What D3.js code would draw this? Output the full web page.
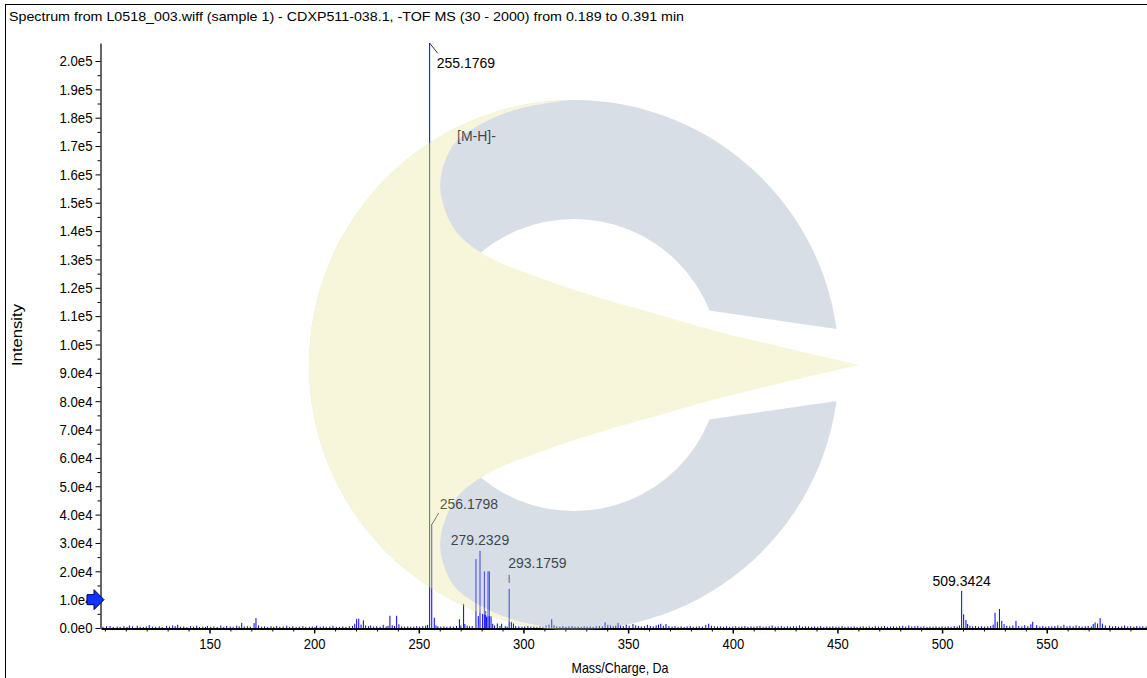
<!DOCTYPE html>
<html><head><meta charset="utf-8">
<script src="https://cdn.jsdelivr.net/npm/d3@7"></script>
<style>
html,body{margin:0;padding:0;background:#fff;overflow:hidden;}
svg{display:block;}
text{font-family:Arial,"Liberation Sans",sans-serif;fill:#000;}
</style>
</head><body>
<svg id="chart" width="1147" height="678"></svg>
<script>
// ---------------- data ----------------
const titleText = "Spectrum from L0518_003.wiff (sample 1) - CDXP511-038.1, -TOF MS (30 - 2000) from 0.189 to 0.391 min";
const xAxisTitle = "Mass/Charge, Da";
const yAxisTitle = "Intensity";
const xTickValues = [150, 200, 250, 300, 350, 400, 450, 500, 550];
const xMinorTicks = [100,110,120,130,140,160,170,180,190,210,220,230,240,260,270,280,290,310,320,330,340,360,370,380,390,410,420,430,440,460,470,480,490,510,520,530,540,560,570,580,590];
const yTickValues = [0,10000,20000,30000,40000,50000,60000,70000,80000,90000,100000,110000,120000,130000,140000,150000,160000,170000,180000,190000,200000];
const yTickLabels = ["0.0e0","1.0e4","2.0e4","3.0e4","4.0e4","5.0e4","6.0e4","7.0e4","8.0e4","9.0e4","1.0e5","1.1e5","1.2e5","1.3e5","1.4e5","1.5e5","1.6e5","1.7e5","1.8e5","1.9e5","2.0e5"];
const yMinorTicks = [5000,15000,25000,35000,45000,55000,65000,75000,85000,95000,105000,115000,125000,135000,145000,155000,165000,175000,185000,195000];

// labelled peaks
const labeledMz = [255.1769, 256.1798, 279.2329, 293.1759, 509.3424];
const labeledIntensity = [206300, 36700, 27200, 13800, 13100];
const labeledText = ["255.1769", "256.1798", "279.2329", "293.1759", "509.3424"];
const adductText = "[M-H]-";

// other peaks (m/z, intensity)
const peakMz = [
 99.1,100.8,102.5,104.0,105.9,107.3,109.1,110.6,111.7,113.2,115.5,116.9,118.4,119.8,121.2,122.7,124.3,126.0,127.4,129.5,130.9,132.4,133.6,134.8,136.1,137.7,139.2,140.9,142.3,143.9,145.2,146.8,148.1,149.0,
 150.6,152.1,153.7,155.4,156.8,158.2,159.9,161.3,163.0,164.2,165.4,166.6,168.1,169.5,171.3,172.2,173.4,174.9,176.3,177.8,179.4,180.7,182.1,183.6,185.2,186.9,188.3,189.8,191.4,192.9,194.6,196.0,197.7,199.1,200.4,201.2,202.9,204.4,205.8,207.5,209.0,210.6,212.1,213.7,215.2,216.8,218.3,219.4,
 220.3,221.3,222.4,223.5,224.6,226.0,227.0,228.4,229.9,231.5,233.0,234.4,235.3,236.2,237.3,238.4,239.4,240.5,241.8,243.2,244.7,246.1,247.6,249.0,250.4,251.9,253.3,254.2,
 257.4,258.2,259.1,260.5,262.0,263.4,265.0,266.5,268.0,269.4,270.1,271.4,272.0,273.1,274.2,275.5,277.3,278.4,280.5,281.3,281.95,282.4,283.06,283.7,284.5,285.3,286.2,287.5,288.8,289.6,291.3,292.2,294.2,295.2,296.3,297.8,299.3,
 300.6,302.1,303.5,305.0,306.4,307.9,309.3,310.8,312.2,313.5,314.6,315.9,317.4,318.8,320.3,321.7,323.2,324.6,326.1,327.6,329.0,330.4,331.9,333.3,334.8,336.3,337.7,339.0,340.3,341.6,342.9,344.1,345.2,346.4,347.7,349.1,350.5,352.3,353.6,354.9,356.3,357.8,359.2,360.6,362.0,363.4,364.5,365.6,366.8,368.1,369.5,371.0,372.4,373.9,375.3,376.8,378.2,379.7,381.1,382.6,384.0,385.5,387.1,388.5,389.8,391.2,392.7,394.1,395.6,397.0,398.5,
 400.0,401.4,402.9,404.3,405.8,407.2,408.7,410.1,411.6,413.0,414.5,415.9,417.4,418.8,420.3,421.7,423.2,424.6,426.1,427.5,429.0,430.4,431.9,433.3,434.8,436.2,437.7,439.1,440.6,442.0,443.5,444.9,446.4,447.8,449.3,450.7,452.2,453.6,455.1,456.5,458.0,459.4,460.9,462.3,463.8,465.2,466.7,468.1,469.6,471.0,472.5,473.9,475.4,476.8,478.3,479.7,481.2,482.6,484.1,485.5,487.0,488.4,489.9,491.3,492.8,494.2,495.7,497.1,498.6,
 500.0,501.5,502.9,504.3,505.8,507.2,508.3,510.3,511.4,512.2,513.3,514.6,516.0,517.4,518.9,520.3,521.8,523.2,524.4,525.3,526.4,527.4,528.5,529.6,530.9,532.3,533.8,535.3,536.6,538.1,539.5,541.0,542.4,543.3,545.2,546.7,548.1,549.5,551.0,552.4,553.9,555.3,556.8,558.2,559.7,561.1,562.6,564.0,565.5,566.9,568.4,569.8,571.3,572.2,573.1,574.3,575.5,576.6,578.0,580.0,581.4,582.9,584.3,585.8,587.2,588.7,590.1,591.6,593.0,594.5,595.9,597.4
];
const peakIntensity = [
 420,610,700,380,520,450,640,390,880,560,780,430,350,520,1050,480,400,590,330,760,520,920,640,1150,430,560,380,690,470,830,390,520,360,720,
 450,580,410,860,390,740,510,420,820,560,1800,520,640,450,1700,3500,900,480,560,390,620,430,760,470,540,810,420,590,380,510,660,410,480,560,390,820,470,600,420,530,780,450,380,560,430,620,700,1500,
 3200,3300,1200,2700,900,640,880,520,610,470,1100,560,780,4300,1000,700,4300,1300,620,480,560,430,510,640,470,590,820,1100,
 3600,900,600,480,550,420,610,500,720,3100,900,8500,1400,800,600,700,24300,4200,5000,20000,6000,4000,20000,20000,4200,1500,900,1600,700,1500,640,480,2200,1600,700,560,480,
 560,720,480,610,430,680,520,900,1200,3100,1000,560,480,650,420,590,700,460,530,380,610,470,540,400,620,720,560,2000,1100,900,600,820,1800,900,700,1200,800,1400,900,700,560,640,1100,700,580,900,1200,1500,800,1400,700,520,680,450,600,380,560,720,430,510,640,470,1100,1500,800,600,490,560,420,610,480,
 520,640,430,550,700,420,590,480,620,760,450,530,610,900,470,560,680,420,590,500,640,560,900,470,620,540,430,560,470,720,400,560,480,610,440,520,680,430,560,470,600,420,510,640,450,580,390,620,480,560,700,420,540,610,460,650,780,520,900,560,640,700,480,600,430,560,480,620,440,
 560,480,620,450,700,520,900,4800,2800,1400,800,600,720,500,640,480,560,700,1200,5400,2200,6700,2500,1400,800,600,900,2500,700,560,1000,640,1300,2200,1000,560,700,480,620,560,700,900,620,1100,600,800,560,900,700,520,620,700,560,1400,2000,1600,3500,1500,900,800,560,700,480,620,900,560,640,480,700,560,620,500
];

// ---------------- chart ----------------
const svg = d3.select("#chart");
const W = 1147, H = 678;
const x = d3.scaleLinear().domain([98.16, 597.9]).range([101, 1147]);
const y = d3.scaleLinear().domain([0, 206350]).range([628, 43]);

function condense(sel, f) {
  sel.each(function () {
    const L = this.getComputedTextLength();
    d3.select(this).attr("textLength", L * f).attr("lengthAdjust", "spacingAndGlyphs");
  });
}

// frame
svg.append("line").attr("x1",5.5).attr("x2",5.5).attr("y1",4).attr("y2",H).attr("stroke","#000").attr("stroke-width",1);
svg.append("line").attr("x1",5).attr("x2",W).attr("y1",4.5).attr("y2",4.5).attr("stroke","#000").attr("stroke-width",1);

// title, fitted to width
svg.append("text").attr("x",9).attr("y",21).attr("font-size",13.5).text(titleText)
  .attr("textLength", 675).attr("lengthAdjust","spacingAndGlyphs");

// peaks
const gPeaks = svg.append("g");
const allPeaks = peakMz.map((m,i)=>({mz:m, v:peakIntensity[i]}))
  .concat(labeledMz.map((m,i)=>({mz:m, v:labeledIntensity[i]})));
gPeaks.selectAll("line").data(allPeaks).join("line")
  .attr("x1",d=>x(d.mz)).attr("x2",d=>x(d.mz))
  .attr("y1",y(0)).attr("y2",d=>y(d.v))
  .attr("stroke","#0000ff").attr("stroke-width",1);

// axes
const yAxis = d3.axisLeft(y).tickValues(yTickValues).tickFormat((d,i)=>yTickLabels[i]).tickSize(5).tickSizeOuter(0).tickPadding(3);
const gy = svg.append("g").attr("transform","translate(100.5,0)").call(yAxis);
gy.select(".domain").attr("stroke-width",1.2);
gy.selectAll("text").attr("font-size",15).attr("font-family","Arial, 'Liberation Sans', sans-serif");
condense(gy.selectAll("text"), 0.88);
svg.append("g").attr("transform","translate(100.5,0)")
  .call(d3.axisLeft(y).tickValues(yMinorTicks).tickFormat("").tickSize(3).tickSizeOuter(0))
  .select(".domain").remove();

const xAxis = d3.axisBottom(x).tickValues(xTickValues).tickFormat(d3.format("d")).tickSize(5).tickSizeOuter(0).tickPadding(5);
const gx = svg.append("g").attr("transform","translate(0,628.5)").call(xAxis);
gx.select(".domain").attr("stroke-width",2);
gx.selectAll(".tick line").attr("stroke-width",1.5);
gx.selectAll("text").attr("font-size",15).attr("font-family","Arial, 'Liberation Sans', sans-serif");
condense(gx.selectAll("text"), 0.87);
svg.append("g").attr("transform","translate(0,628.5)")
  .call(d3.axisBottom(x).tickValues(xMinorTicks).tickFormat("").tickSize(3).tickSizeOuter(0))
  .select(".domain").remove();

// axis titles
svg.append("text").attr("x",620).attr("y",673).attr("text-anchor","middle").attr("font-size",14.5)
  .attr("textLength",97).attr("lengthAdjust","spacingAndGlyphs").text(xAxisTitle);
svg.append("text").attr("transform","translate(22,335) rotate(-90)").attr("text-anchor","middle").attr("font-size",15)
  .attr("textLength",62).attr("lengthAdjust","spacingAndGlyphs").text(yAxisTitle);

// annotations
const ann = svg.append("g").attr("font-size",14);
{
  const px = x(labeledMz[0]), py = y(labeledIntensity[0]);
  ann.append("line").attr("x1",px).attr("y1",py).attr("x2",px+8).attr("y2",py+10).attr("stroke","#000").attr("stroke-width",0.8);
  ann.append("text").attr("x",px+7).attr("y",py+25).text(labeledText[0]);
}
{
  const px = x(labeledMz[1]), py = y(labeledIntensity[1]);
  ann.append("line").attr("x1",px+0.5).attr("y1",py).attr("x2",px+7).attr("y2",py-11).attr("stroke","#000").attr("stroke-width",0.8);
  ann.append("text").attr("x",px+8).attr("y",py-15).text(labeledText[1]);
}
{
  const px = x(labeledMz[2]), py = y(labeledIntensity[2]);
  ann.append("text").attr("x",px).attr("y",py-6).attr("text-anchor","middle").text(labeledText[2]);
}
{
  const px = x(labeledMz[3]), py = y(labeledIntensity[3]);
  ann.append("line").attr("x1",px).attr("y1",py-6).attr("x2",px).attr("y2",py-14).attr("stroke","#000").attr("stroke-width",0.8);
  ann.append("text").attr("x",px-1).attr("y",py-21).text(labeledText[3]);
}
{
  const px = x(labeledMz[4]), py = y(labeledIntensity[4]);
  ann.append("text").attr("x",px).attr("y",py-5).attr("text-anchor","middle").text(labeledText[4]);
}
ann.append("text").attr("x",457).attr("y",141).text(adductText);

// blue marker arrow at the left axis
svg.append("path")
  .attr("d","M104," + y(10000) + " l-10,-10 v5 h-7 v10 h7 v5 Z")
  .attr("fill","#1034ff").attr("stroke","#000050").attr("stroke-width",1);

// ---------------- watermark overlay ----------------
const defs = svg.append("defs");
const mask = defs.append("mask").attr("id","gapmask").attr("maskUnits","userSpaceOnUse")
  .attr("x",0).attr("y",0).attr("width",W).attr("height",H);
mask.append("rect").attr("width",W).attr("height",H).attr("fill","#fff");
mask.append("path").attr("d","M690,307.8 L875,334.6 L875,395.4 L690,422.2 Z").attr("fill","#000");

const wm = svg.append("g").attr("opacity",0.39).style("pointer-events","none");
const cx = 574, cy = 365, R = 265, r = 146;
const ring = d3.path();
ring.moveTo(cx+R,cy); ring.arc(cx,cy,R,0,2*Math.PI);
ring.moveTo(cx+r,cy); ring.arc(cx,cy,r,0,2*Math.PI);
wm.append("path").attr("d",ring.toString()).attr("fill-rule","evenodd")
  .attr("fill","rgb(153,173,189)").attr("mask","url(#gapmask)");

const a0 = Math.atan2(-265,-4), a1 = Math.atan2(265,-4) - 2*Math.PI;
const arcP = d3.path();
arcP.moveTo(cx+R*Math.cos(a0), cy+R*Math.sin(a0));
arcP.arc(cx,cy,R,a0,a1+0.0001,true);
const lowerPts = [[570,630],[522,622],[485,608],[455,587],[442,559],[441,535],[455,500],[485,475],[540,452],[600,432],[660,415],[712,400],[790,381],[859,365]];
const upperPts = [[859,365],[790,349],[712,330],[660,315],[600,298],[540,278],[485,255],[455,230],[441,195],[442,171],[455,143],[485,122],[522,108],[570,100]];
const cr = d3.line().curve(d3.curveCatmullRom.alpha(0.5));
wm.append("path")
  .attr("d", arcP.toString() + cr(lowerPts).replace(/^M/,"L") + cr(upperPts).replace(/^M/,"L") + "Z")
  .attr("fill","rgb(235,232,161)");
</script>
</body></html>
